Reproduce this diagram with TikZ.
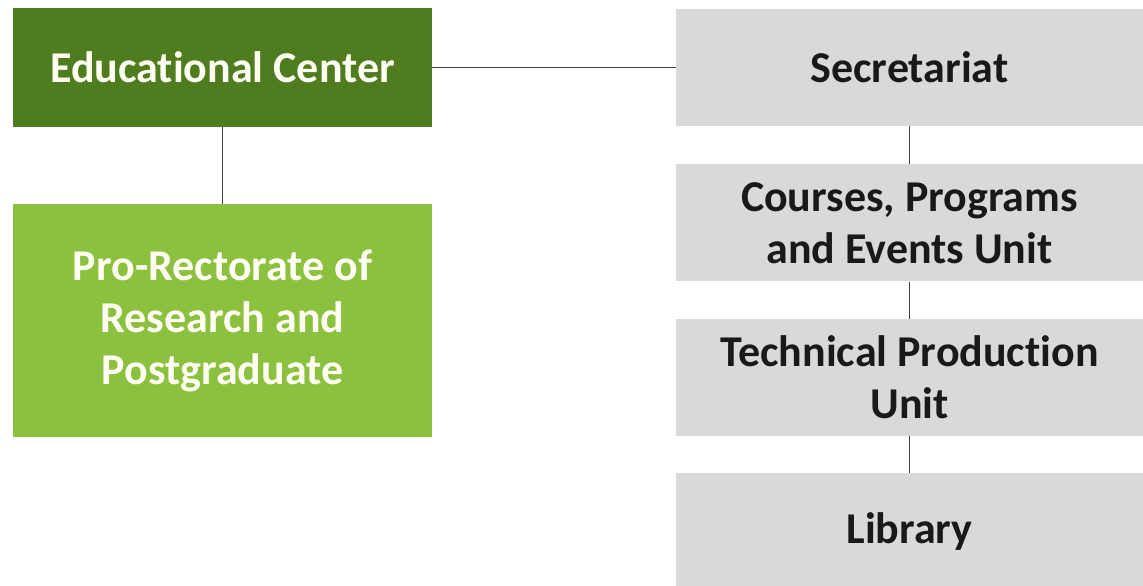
\documentclass[tikz,border=0pt]{standalone}
\usepackage{fontspec}
\setmainfont[Ligatures=NoCommon]{Carlito}
\usetikzlibrary{positioning}
\definecolor{centercolor}{RGB}{78, 124, 31}
\definecolor{prorectorcolor}{RGB}{140, 193, 63}
\definecolor{unitcolor}{RGB}{217, 217, 217}
\definecolor{linkcolor}{RGB}{64, 64, 64}

\begin{document}
\begin{tikzpicture}[
    x=1pt, y=-1pt,
    node distance=37pt,
    box/.style={rectangle, inner sep=0pt, align=center, font=\fontsize{44}{52}\selectfont\bfseries},
    center/.style={box, fill=centercolor, text=white!95!yellow, minimum width=419pt, minimum height=119pt},
    prorector/.style={box, fill=prorectorcolor, text=white!95!yellow, minimum width=419pt, minimum height=233pt},
    unit/.style={box, fill=unitcolor, text=black!90, minimum width=467pt, minimum height=117pt},
    link/.style={draw=linkcolor, line width=1.5pt},
]
\useasboundingbox (0,0) rectangle (1143,586);

% Left column
\node[center] (edu) at (222.5, 67.5) {Educational Center};
\node[prorector] (pro) at (222.5, 320.5) {Pro-Rectorate of\\Research and\\Postgraduate};

% Right column
\node[unit] (secr) at (909.5, 67.5) {Secretariat};
\node[unit, below=38pt of secr] (courses) {Courses, Programs\\and Events Unit};
\node[unit, below=of courses] (tech) {Technical Production\\Unit};
\node[unit, below=of tech] (lib) {Library};

% Connectors
\draw[link] (edu) -- (pro);
\draw[link] (edu) -- (secr);
\draw[link] (secr) -- (courses);
\draw[link] (courses) -- (tech);
\draw[link] (tech) -- (lib);

\end{tikzpicture}
\end{document}
